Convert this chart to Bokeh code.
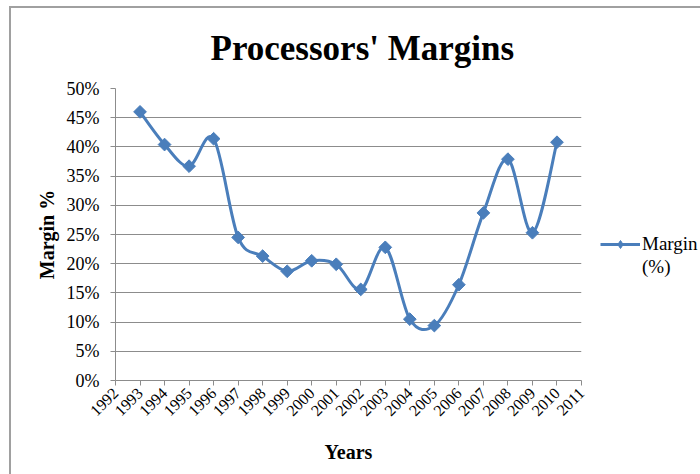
import math

from bokeh.embed import file_html
from bokeh.models import (ColumnDataSource, FixedTicker, Legend, LegendItem,
                          PrintfTickFormatter, Range1d)
from bokeh.plotting import figure
from bokeh.resources import INLINE

# Processor margins per year, in percent
years = list(range(1993, 2011))
margin_pct = [46.0, 40.4, 36.7, 41.4, 24.5, 21.3, 18.7, 20.5, 19.9,
              15.6, 22.8, 10.5, 9.4, 16.4, 28.7, 37.9, 25.3, 40.8]

year_ticks = list(range(1992, 2012))
pct_ticks = list(range(0, 51, 5))

BLUE = "#4a7ebb"
GREY = "#8c8c8c"
SERIF = "Liberation Serif"
NAN = float("nan")

# Smoothed line: one cubic Bezier per segment (Catmull-Rom style control points)
n = len(years)
seg = dict(x0=[], y0=[], x1=[], y1=[], cx0=[], cy0=[], cx1=[], cy1=[])
for i in range(n - 1):
    a, b = max(i - 1, 0), min(i + 2, n - 1)
    seg["x0"].append(years[i]); seg["y0"].append(margin_pct[i])
    seg["x1"].append(years[i + 1]); seg["y1"].append(margin_pct[i + 1])
    seg["cx0"].append(years[i] + (years[i + 1] - years[a]) / 6)
    seg["cy0"].append(margin_pct[i] + (margin_pct[i + 1] - margin_pct[a]) / 6)
    seg["cx1"].append(years[i + 1] - (years[b] - years[i]) / 6)
    seg["cy1"].append(margin_pct[i + 1] - (margin_pct[b] - margin_pct[i]) / 6)

p = figure(frame_width=466, frame_height=292,
           x_range=Range1d(1992, 2011), y_range=Range1d(0, 50),
           output_backend="svg", toolbar_location=None,
           title="Processors' Margins",
           min_border_left=104, min_border_right=119,
           min_border_top=80, min_border_bottom=94)
p.margin = (6, 0, 0, 9)
p.styles = {"border-top": "2px solid #a0a0a0", "border-left": "2px solid #a0a0a0"}

p.title.align = "left"
p.title.offset = 95
p.title.vertical_align = "top"
p.title.standoff = 38
p.title.text_font = SERIF
p.title.text_font_size = "35px"
p.title.text_font_style = "bold"
p.title.text_color = "black"

p.outline_line_color = None
p.xgrid.grid_line_color = None
p.ygrid.grid_line_color = GREY
p.ygrid.ticker = FixedTicker(ticks=pct_ticks)

xax = p.below[0]
yax = p.left[0]
xax.ticker = FixedTicker(ticks=year_ticks)
yax.ticker = FixedTicker(ticks=pct_ticks)
yax.formatter = PrintfTickFormatter(format="%d%%")
for ax in (xax, yax):
    ax.axis_line_color = GREY
    ax.major_tick_line_color = GREY
    ax.major_tick_in = 0
    ax.major_tick_out = 5
    ax.minor_tick_line_color = None
    ax.major_label_text_font = SERIF
    ax.major_label_text_color = "black"
    ax.axis_label_text_font = SERIF
    ax.axis_label_text_font_style = "bold"
    ax.axis_label_text_color = "black"
xax.major_label_text_font_size = "16px"
xax.major_label_orientation = math.pi / 4
xax.axis_label = "Years"
xax.axis_label_text_font_size = "20px"
xax.axis_label_standoff = 17
yax.major_label_text_font_size = "18px"
yax.axis_label = "Margin %"
yax.axis_label_text_font_size = "20px"
yax.axis_label_standoff = 6
yax.major_label_standoff = 11

p.bezier(x0="x0", y0="y0", x1="x1", y1="y1", cx0="cx0", cy0="cy0",
         cx1="cx1", cy1="cy1", source=ColumnDataSource(seg),
         line_color=BLUE, line_width=3)
p.scatter(years, margin_pct, marker="square", angle=math.pi / 4,
          size=9, fill_color=BLUE, line_color=BLUE)

# legend key: line with a diamond marker; the label wraps onto a second row
key_line = p.line(x=[NAN], y=[NAN], line_color=BLUE, line_width=3)
key_mark = p.scatter(x=[NAN], y=[NAN], marker="diamond", size=12,
                     fill_color=BLUE, line_color=BLUE)
blank_key = p.line(x=[NAN], y=[NAN], line_alpha=0)

legend = Legend(items=[LegendItem(label="Margin", renderers=[key_line, key_mark]),
                       LegendItem(label="(%)", renderers=[blank_key])],
                location=(19, 102), border_line_color=None,
                background_fill_alpha=0, glyph_width=40, glyph_height=20,
                label_height=20, spacing=1, label_standoff=2,
                margin=0, padding=0, label_text_color="black",
                label_text_font=SERIF, label_text_font_size="19px")
p.add_layout(legend, "right")

open("out.html", "w").write(file_html(p, INLINE))
